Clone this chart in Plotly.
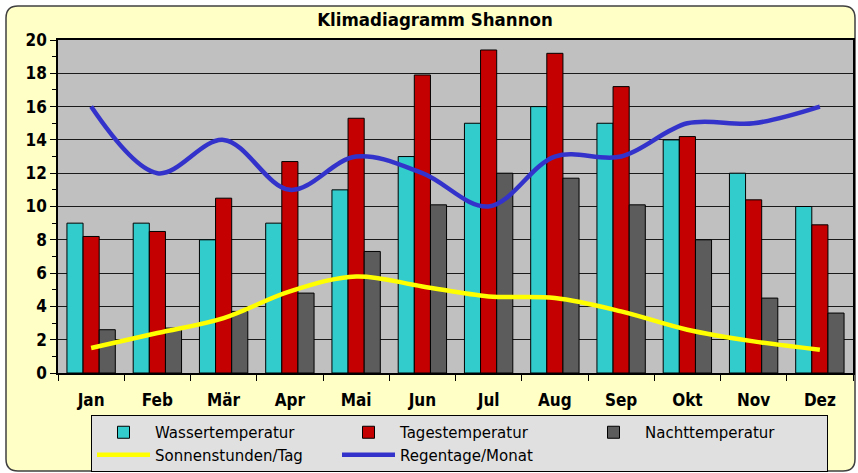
import plotly.graph_objects as go

months = ["Jan", "Feb", "Mär", "Apr", "Mai", "Jun", "Jul", "Aug", "Sep", "Okt", "Nov", "Dez"]
wassertemperatur = [9, 9, 8, 9, 11, 13, 15, 16, 15, 14, 12, 10]
tagestemperatur = [8.2, 8.5, 10.5, 12.7, 15.3, 17.9, 19.4, 19.2, 17.2, 14.2, 10.4, 8.9]
nachttemperatur = [2.6, 2.7, 3.7, 4.8, 7.3, 10.1, 12.0, 11.7, 10.1, 8.0, 4.5, 3.6]
sonnenstunden = [1.5, 2.4, 3.3, 4.9, 5.8, 5.2, 4.6, 4.5, 3.7, 2.6, 1.9, 1.4]
regentage = [16, 12, 14, 11, 13, 12, 10, 13, 13, 15, 15, 16]

W, H = 858, 473
L, R, T, B = 58, 5, 40, 100
pw, ph = W - L - R, H - T - B

def px(x):
    return (x - L) / pw

def py(y):
    return (H - B - y) / ph

fig = go.Figure()
fig.add_trace(go.Bar(x=months, y=wassertemperatur, name="Wassertemperatur",
                     marker=dict(color="#33cccc", line=dict(color="#000000", width=1))))
fig.add_trace(go.Bar(x=months, y=tagestemperatur, name="Tagestemperatur",
                     marker=dict(color="#c40000", line=dict(color="#000000", width=1))))
fig.add_trace(go.Bar(x=months, y=nachttemperatur, name="Nachttemperatur",
                     marker=dict(color="#5c5c5c", line=dict(color="#000000", width=1))))
fig.add_trace(go.Scatter(x=months, y=sonnenstunden, name="Sonnenstunden/Tag", mode="lines",
                         line=dict(color="#ffff00", width=4.5, shape="spline", smoothing=1.0)))
fig.add_trace(go.Scatter(x=months, y=regentage, name="Regentage/Monat", mode="lines",
                         line=dict(color="#3333cc", width=4.5, shape="spline", smoothing=1.0)))

# rounded yellow frame (decoration)
x0, x1, y0, y1, r = 6, 855, 6, 471, 12
path = (f"M {px(x0 + r)},{py(y0)} L {px(x1 - r)},{py(y0)} "
        f"Q {px(x1)},{py(y0)} {px(x1)},{py(y0 + r)} L {px(x1)},{py(y1 - r)} "
        f"Q {px(x1)},{py(y1)} {px(x1 - r)},{py(y1)} L {px(x0 + r)},{py(y1)} "
        f"Q {px(x0)},{py(y1)} {px(x0)},{py(y1 - r)} L {px(x0)},{py(y0 + r)} "
        f"Q {px(x0)},{py(y0)} {px(x0 + r)},{py(y0)} Z")

fnt = "Liberation Sans Narrow, DejaVu Sans Condensed, Arial, sans-serif"
lfnt = "DejaVu Sans, Liberation Sans, Arial, sans-serif"

fig.update_layout(
    width=W, height=H,
    margin=dict(l=L, r=R, t=T, b=B, autoexpand=False),
    paper_bgcolor="#ffffff",
    plot_bgcolor="#c0c0c0",
    barmode="group", bargap=0.27, bargroupgap=0,
    title=dict(text="<b>Klimadiagramm Shannon</b>", x=435 / W, xref="container", xanchor="center",
               y=1 - 20 / H, yref="container", yanchor="middle",
               font=dict(family=fnt, size=18.5, color="#000000")),
    shapes=[dict(type="path", xref="paper", yref="paper", path=path, layer="below",
                 fillcolor="#ffffc6", line=dict(color="#404040", width=1.5)),
            dict(type="rect", xref="paper", yref="paper", x0=0, x1=1, y0=0, y1=1,
                 layer="below", fillcolor="#c0c0c0", line=dict(width=0))],
    showlegend=True,
    legend=dict(orientation="h", x=px(91), xanchor="left", y=py(415), yanchor="top",
                bgcolor="#e0e0e0", bordercolor="#000000", borderwidth=1,
                entrywidth=177, entrywidthmode="pixels", itemwidth=53,
                font=dict(family=lfnt, size=15, color="#000000"),
                traceorder="normal", tracegroupgap=0),
    font=dict(family=fnt, color="#000000"),
)
fig.update_xaxes(type="category", tickson="boundaries", ticks="outside", ticklen=6,
                 tickcolor="#000000", showline=True, linecolor="#000000", linewidth=1.5,
                 mirror=True, showgrid=False,
                 tickfont=dict(family=fnt, size=17, color="#000000"),
                 ticklabelstandoff=11, tickprefix="<b>", ticksuffix="</b>")
fig.update_yaxes(range=[0, 20], dtick=2, showgrid=True, gridcolor="#1a1a1a", gridwidth=1,
                 ticks="outside", ticklen=6, tickcolor="#000000",
                 showline=True, linecolor="#000000", linewidth=1.5, mirror=True,
                 minor=dict(dtick=1, ticks="outside", ticklen=4, tickcolor="#000000", showgrid=False),
                 tickfont=dict(family=fnt, size=17, color="#000000"),
                 tickprefix="<b>", ticksuffix="</b>", zeroline=False)

fig.write_html("out.html", config={"displayModeBar": False},
               post_script="document.body.style.margin='0';")
